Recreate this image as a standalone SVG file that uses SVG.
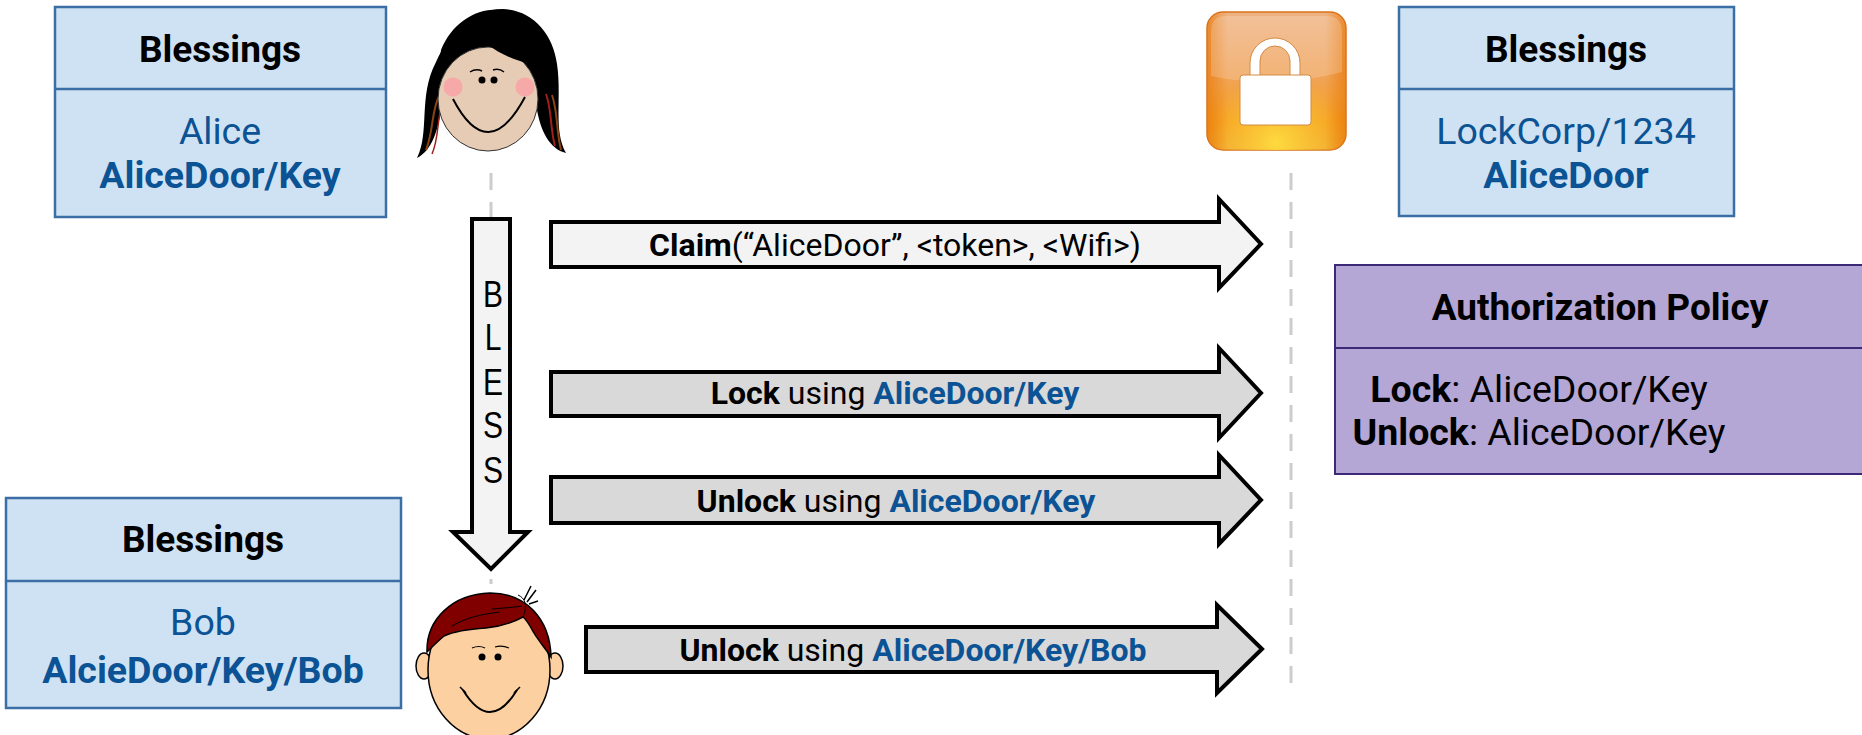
<svg xmlns="http://www.w3.org/2000/svg" width="1862" height="735" viewBox="0 0 1862 735">
  <style>
    text { font-family: Roboto, "Liberation Sans", sans-serif; }
    .box { fill: #cfe2f3; stroke: #3a6ea5; stroke-width: 2.5; }
    .policy { fill: #b4a7d6; stroke: #3c2a78; stroke-width: 2; }
    .hdr { font-size: 37px; font-weight: bold; fill: #000; text-anchor: middle; }
    .blue { font-size: 37.5px; fill: #0b5394; text-anchor: middle; }
    .b { font-weight: bold; }
    .msg { font-size: 32px; fill: #000; text-anchor: middle; }
    .pol { font-size: 37.5px; fill: #000; text-anchor: middle; }
    .kw { fill: #0b5394; font-weight: bold; }
    .arrow { stroke: #000; stroke-width: 4; stroke-linejoin: miter; }
    .light { fill: #f3f3f3; }
    .grey { fill: #d9d9d9; }
    .life { stroke: #cccccc; stroke-width: 3; stroke-dasharray: 17 12; fill: none; }
    .bless { font-family: "Liberation Sans", Arial, sans-serif; font-size: 30px; text-anchor: middle; fill: #000; }
  </style>
  <defs>
    <linearGradient id="lockBg" x1="0" y1="0" x2="0" y2="1">
      <stop offset="0" stop-color="#eeb384"/>
      <stop offset="0.45" stop-color="#f0a45a"/>
      <stop offset="0.8" stop-color="#f5a020"/>
      <stop offset="1" stop-color="#f0a830"/>
    </linearGradient>
    <radialGradient id="lockGlow" cx="0.5" cy="0.95" r="0.5">
      <stop offset="0" stop-color="#ffe040" stop-opacity="0.9"/>
      <stop offset="1" stop-color="#ffd040" stop-opacity="0"/>
    </radialGradient>
    <linearGradient id="lockEdge" x1="0" y1="0" x2="1" y2="0">
      <stop offset="0" stop-color="#e8780a" stop-opacity="0.7"/>
      <stop offset="0.15" stop-color="#e8780a" stop-opacity="0"/>
      <stop offset="0.85" stop-color="#e8780a" stop-opacity="0"/>
      <stop offset="1" stop-color="#e8780a" stop-opacity="0.7"/>
    </linearGradient>
  </defs>

  <!-- lifelines and messages -->
  <g id="connectors">
    <line class="life" x1="491" y1="173" x2="491" y2="584"/>
    <line class="life" x1="1291" y1="173" x2="1291" y2="684"/>

    <!-- BLESS: Alice to Bob -->
    <path class="arrow light" d="M472,219 L510,219 L510,532 L528,532 L491,569 L453,532 L472,532 Z"/>
    <text class="bless" transform="translate(493,307) scale(1,1.25)">B</text>
    <text class="bless" transform="translate(493,350) scale(1,1.25)">L</text>
    <text class="bless" transform="translate(493,395) scale(1,1.25)">E</text>
    <text class="bless" transform="translate(493,438) scale(1,1.25)">S</text>
    <text class="bless" transform="translate(493,483) scale(1,1.25)">S</text>

    <path class="arrow light" d="M551,222 L1219,222 L1219,199 L1261,244 L1219,288 L1219,267 L551,267 Z"/>
    <text class="msg" x="895" y="256"><tspan class="b">Claim</tspan>(“AliceDoor”, &lt;token&gt;, &lt;Wifi&gt;)</text>

    <path class="arrow grey" d="M551,372 L1219,372 L1219,348 L1261,393 L1219,438 L1219,416 L551,416 Z"/>
    <text class="msg" x="895" y="404"><tspan class="b">Lock</tspan> using <tspan class="kw">AliceDoor/Key</tspan></text>

    <path class="arrow grey" d="M551,477 L1219,477 L1219,455 L1261,500 L1219,544 L1219,523 L551,523 Z"/>
    <text class="msg" x="896" y="512"><tspan class="b">Unlock</tspan> using <tspan class="kw">AliceDoor/Key</tspan></text>

    <path class="arrow grey" d="M586,627 L1217,627 L1217,605 L1262,649 L1217,693 L1217,672 L586,672 Z"/>
    <text class="msg" x="913" y="661"><tspan class="b">Unlock</tspan> using <tspan class="kw">AliceDoor/Key/Bob</tspan></text>
  </g>

  <!-- Alice's blessings -->
  <g id="alice-blessings">
    <rect class="box" x="55" y="7" width="331" height="210"/>
    <line x1="55" y1="89" x2="386" y2="89" stroke="#3a6ea5" stroke-width="2.5"/>
    <text class="hdr" x="220" y="62">Blessings</text>
    <text class="blue" x="220" y="144">Alice</text>
    <text class="blue b" x="220" y="188">AliceDoor/Key</text>
  </g>

  <!-- Lock's blessings -->
  <g id="lock-blessings">
    <rect class="box" x="1399" y="7" width="335" height="209"/>
    <line x1="1399" y1="89" x2="1734" y2="89" stroke="#3a6ea5" stroke-width="2.5"/>
    <text class="hdr" x="1566" y="62">Blessings</text>
    <text class="blue" x="1566" y="144">LockCorp/1234</text>
    <text class="blue b" x="1566" y="188">AliceDoor</text>
  </g>

  <!-- Bob's blessings -->
  <g id="bob-blessings">
    <rect class="box" x="6" y="498" width="395" height="210"/>
    <line x1="6" y1="581" x2="401" y2="581" stroke="#3a6ea5" stroke-width="2.5"/>
    <text class="hdr" x="203" y="552">Blessings</text>
    <text class="blue" x="203" y="635">Bob</text>
    <text class="blue b" x="203" y="683">AlcieDoor/Key/Bob</text>
  </g>

  <!-- Authorization policy -->
  <g id="policy">
    <rect class="policy" x="1335" y="265" width="530" height="209"/>
    <line x1="1335" y1="348" x2="1862" y2="348" stroke="#3c2a78" stroke-width="2"/>
    <text class="hdr" x="1600" y="320">Authorization Policy</text>
    <text class="pol" x="1539" y="402"><tspan class="b">Lock</tspan>: AliceDoor/Key</text>
    <text class="pol" x="1539" y="445"><tspan class="b">Unlock</tspan>: AliceDoor/Key</text>
  </g>

  <!-- Alice -->
  <g id="alice">
    <path d="M417,158 C430,132 418,96 436,62 C450,30 476,9 503,9 C533,10 553,34 557,64 C562,98 553,130 566,153 C550,149 540,132 536,104 L442,104 C438,132 432,150 417,158 Z" fill="#000"/>
    <path d="M426,150 C434,130 431,110 440,94" stroke="#8b4513" stroke-width="2" fill="none"/>
    <path d="M432,154 C440,136 436,116 444,100" stroke="#a0201a" stroke-width="1.5" fill="none"/>
    <path d="M555,146 C550,128 552,110 546,94" stroke="#a0201a" stroke-width="2" fill="none"/>
    <path d="M561,150 C556,130 558,112 552,95" stroke="#8b4513" stroke-width="2" fill="none"/>
    <ellipse cx="488" cy="99" rx="50" ry="52" fill="#e6cbb5" stroke="#333" stroke-width="1"/>
    <path d="M437,92 C438,62 452,38 469,24 C480,42 500,55 520,61 C535,66 547,72 555,82 C557,50 542,16 505,10 C478,6 452,22 441,50 Z" fill="#000"/>
    <circle cx="453" cy="87" r="9.5" fill="#f7a8a8"/>
    <circle cx="525" cy="87" r="9.5" fill="#f7a8a8"/>
    <path d="M470,72 Q476,68 482,71" stroke="#000" stroke-width="1.5" fill="none"/>
    <path d="M493,70 Q499,68 504,72" stroke="#000" stroke-width="1.5" fill="none"/>
    <circle cx="482" cy="80" r="3.5" fill="#000"/>
    <circle cx="494" cy="80" r="3.5" fill="#000"/>
    <path d="M453,99 Q488,166 525,97" stroke="#000" stroke-width="2" fill="none"/>
  </g>

  <!-- Bob -->
  <g id="bob">
    <ellipse cx="424" cy="666" rx="8" ry="13" fill="#fdd0a2" stroke="#000" stroke-width="1.5"/>
    <ellipse cx="555" cy="666" rx="8" ry="13" fill="#fdd0a2" stroke="#000" stroke-width="1.5"/>
    <ellipse cx="489" cy="670" rx="61" ry="69" fill="#fdd0a2" stroke="#000" stroke-width="1.5"/>
    <path d="M427,652 C426,620 452,594 490,593 C525,593 550,618 551,657 C545,648 538,640 534,633 C530,626 527,620 523,617 C510,624 498,627 486,628 C470,629 455,631 444,636 C437,642 431,648 427,652 Z" fill="#800000" stroke="#000" stroke-width="1.5"/>
    <path d="M524,600 L531,586 M527,602 L536,590 M529,604 L538,601" stroke="#000" stroke-width="1.5" fill="none"/>
    <path d="M492,609 C505,608 515,607 522,606 M452,626 C465,618 482,614 500,612 M523,617 C528,605 525,598 518,595" stroke="#000" stroke-width="1" fill="none"/>
    <path d="M472,648 Q479,645 485,648" stroke="#000" stroke-width="1.2" fill="none"/>
    <path d="M495,647 Q502,645 509,648" stroke="#000" stroke-width="1.2" fill="none"/>
    <circle cx="482" cy="657" r="3.5" fill="#000"/>
    <circle cx="498" cy="657" r="3.5" fill="#000"/>
    <path d="M463,690 Q490,734 517,690" stroke="#000" stroke-width="2" fill="none"/>
    <path d="M460,687 L466,693 M514,693 L520,687" stroke="#000" stroke-width="1.5" fill="none"/>
  </g>

  <!-- Lock device -->
  <g id="lock">
    <rect x="1207" y="12" width="139" height="138" rx="16" fill="url(#lockBg)" stroke="#d9731a" stroke-width="1.5"/>
    <rect x="1207" y="12" width="139" height="138" rx="16" fill="url(#lockGlow)"/>
    <rect x="1207" y="12" width="139" height="138" rx="16" fill="url(#lockEdge)"/>
    <path d="M1211,76 L1211,32 Q1211,16 1226,16 L1327,16 Q1342,16 1342,32 L1342,72 Q1276,90 1211,76 Z" fill="#ffffff" opacity="0.18"/>
    <path d="M1250,77 L1250,63 A25,25 0 0 1 1300,63 L1300,77 L1290,77 L1290,61 A15,15 0 0 0 1260,61 L1260,77 Z" fill="#ffffff" stroke="#d38a45" stroke-width="1"/>
    <rect x="1240" y="75" width="71" height="50" rx="3" fill="#ffffff" stroke="#d38a45" stroke-width="1"/>
  </g>
</svg>
